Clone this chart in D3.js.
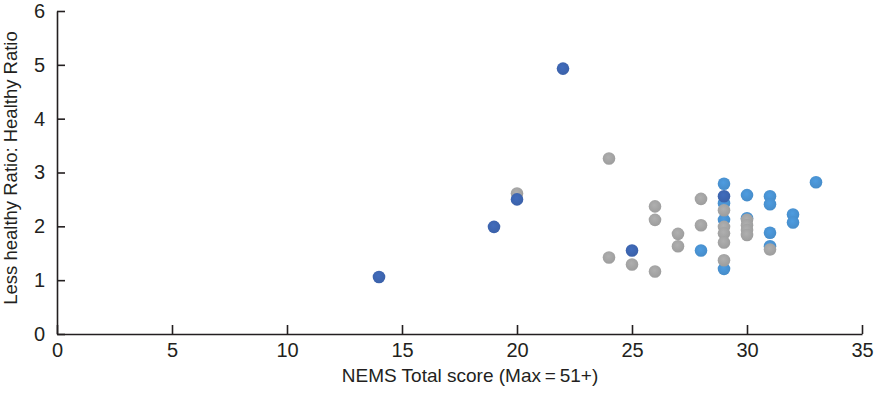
<!DOCTYPE html>
<html>
<head>
<meta charset="utf-8">
<script src="https://cdn.jsdelivr.net/npm/d3@7"></script>
<style>
  body { margin: 0; background: #fff; }
  text { font-family: "Liberation Sans", Arial, sans-serif; fill: #231f20; }
</style>
</head>
<body>
<svg id="svg" width="876" height="394"></svg>
<script>
var svg = d3.select("#svg");

// NEMS total score (x) and ratio (y), three groups of stores
var lightX = [28, 29, 29, 29, 29, 30, 30, 31, 31, 31, 31, 32, 32, 33];
var lightY = [1.55, 2.79, 2.43, 2.12, 1.21, 2.58, 2.15, 2.56, 2.41, 1.88, 1.63, 2.22, 2.07, 2.82];

var grayX = [20, 24, 24, 25, 26, 26, 26, 27, 27, 28, 28, 29, 29, 29, 29, 29, 30, 30, 30, 30, 31];
var grayY = [2.61, 3.26, 1.42, 1.29, 2.37, 2.12, 1.16, 1.86, 1.63, 2.51, 2.02, 2.30, 1.99, 1.87, 1.70, 1.37, 2.12, 2.02, 1.93, 1.84, 1.57];

var darkX = [14, 19, 20, 22, 25, 29];
var darkY = [1.06, 1.99, 2.50, 4.93, 1.55, 2.56];

var xTicks = [0, 5, 10, 15, 20, 25, 30, 35];
var yTicks = [0, 1, 2, 3, 4, 5, 6];

var series = [
  {name: "light", xs: lightX, ys: lightY, color: "#4a94d4"},
  {name: "gray", xs: grayX, ys: grayY, color: "#a6a6a6"},
  {name: "dark", xs: darkX, ys: darkY, color: "#3e66b2"}
];

var x = d3.scaleLinear().domain([0, 35]).range([57, 862]);
var y = d3.scaleLinear().domain([0, 6]).range([334, 11]);

// soft shading on the markers
var defs = svg.append("defs");
series.forEach(function (s) {
  var g = defs.append("radialGradient")
    .attr("id", "grad-" + s.name)
    .attr("cx", "45%").attr("cy", "40%").attr("r", "60%");
  g.append("stop").attr("offset", "0%").attr("stop-color", d3.color(s.color).brighter(0.15));
  g.append("stop").attr("offset", "100%").attr("stop-color", d3.color(s.color).darker(0.15));
});

series.forEach(function (s) {
  svg.append("g").selectAll("circle")
    .data(s.xs.map(function (v, i) { return [v, s.ys[i]]; }))
    .enter()
    .append("circle")
    .attr("cx", function (d) { return x(d[0]); })
    .attr("cy", function (d) { return y(d[1]); })
    .attr("r", 6.3)
    .style("fill", "url(#grad-" + s.name + ")");
});

var xAxis = svg.append("g")
  .attr("transform", "translate(0," + y(0) + ")")
  .call(d3.axisBottom(x).tickValues(xTicks).tickFormat(d3.format("d"))
    .tickSizeInner(-9).tickSizeOuter(0).tickPadding(8.5));

var yAxis = svg.append("g")
  .attr("transform", "translate(" + x(0) + ",0)")
  .call(d3.axisLeft(y).tickValues(yTicks).tickFormat(d3.format("d"))
    .tickSizeInner(-8).tickSizeOuter(0).tickPadding(12));

[xAxis, yAxis].forEach(function (a) {
  a.select(".domain").attr("stroke", "#231f20").attr("stroke-width", 1.6);
  a.selectAll(".tick line").attr("stroke", "#231f20").attr("stroke-width", 1.6);
  a.selectAll(".tick text")
    .style("font-family", "'Liberation Sans', Arial, sans-serif")
    .style("font-size", "20px")
    .attr("fill", "#231f20");
});

svg.append("text")
  .attr("x", 470)
  .attr("y", 382)
  .attr("text-anchor", "middle")
  .style("font-size", "19px")
  .text("NEMS Total score (Max\u2009=\u200951+)");

svg.append("text")
  .attr("transform", "translate(17,168) rotate(-90)")
  .attr("text-anchor", "middle")
  .style("font-size", "18.5px")
  .text("Less healthy Ratio: Healthy Ratio");
</script>
</body>
</html>
